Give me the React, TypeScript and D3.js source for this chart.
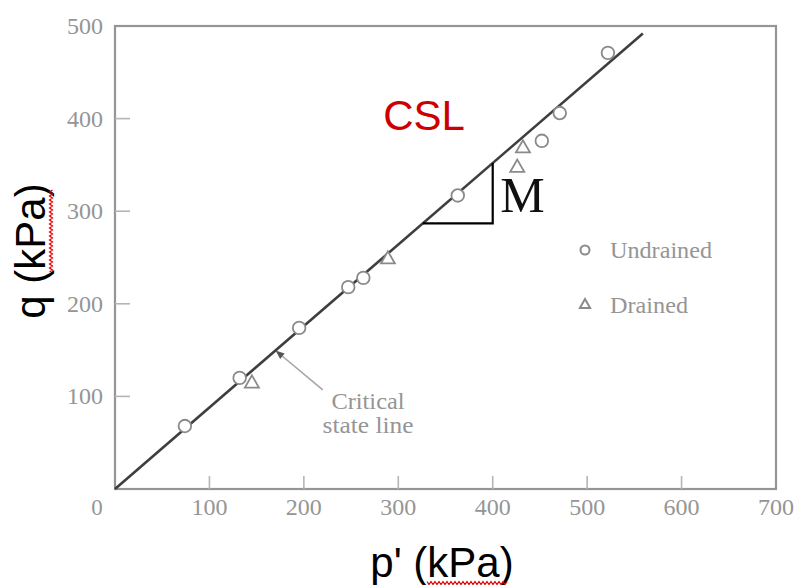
import React from "react";
import * as d3 from "d3";

// Undrained triaxial tests at critical state (p', q in kPa)
const undrainedP = [74, 132, 195, 247, 263, 363, 452, 471, 522];
const undrainedQ = [68, 120, 174, 218, 228, 317, 376, 406, 471];
// Drained triaxial tests at critical state
const drainedP = [145, 289, 432, 426];
const drainedQ = [115, 249, 369, 348];

const xTicks = [0, 100, 200, 300, 400, 500, 600, 700];
const yTicks = [100, 200, 300, 400, 500];

// Critical state line q = M p'
const M = 0.88;
const cslEndP = 559;

const W = 796;
const H = 585;

const serif = "'Liberation Serif', 'DejaVu Serif', serif";
const sans = "'Liberation Sans', Arial, sans-serif";
const axisGrey = "#959595";
const markGrey = "#8a8a8a";

function squiggle(x0: number, y0: number, len: number, vertical: boolean) {
  const pts: [number, number][] = [];
  const step = 2;
  for (let i = 0; i * step <= len; i++) {
    const off = i % 2 === 0 ? -1.5 : 1.5;
    pts.push(vertical ? [x0 + off, y0 - i * step] : [x0 + i * step, y0 + off]);
  }
  return d3.line()(pts) as string;
}

export default function App() {
  const x = d3.scaleLinear().domain([0, 700]).range([115, 776]);
  const y = d3.scaleLinear().domain([0, 500]).range([489, 26]);

  const cslPath = d3.line<number>()
    .x((p) => x(p))
    .y((p) => y(M * p))([0, cslEndP]) as string;

  const triPath = (s: number) => d3.symbol(d3.symbolTriangle, s)() as string;

  // slope triangle on the CSL
  const s0 = 326;
  const s1 = 400;
  const slopePath = d3.line()([
    [x(s0), y(M * s0)],
    [x(s1), y(M * s0)],
    [x(s1), y(M * s1)],
  ]) as string;

  // arrow for the "Critical state line" note
  const arrowFrom: [number, number] = [x(220), y(107)];
  const arrowTo: [number, number] = [x(170), y(M * 170)];
  const ang = Math.atan2(arrowTo[1] - arrowFrom[1], arrowTo[0] - arrowFrom[0]);
  const ah = 9;
  const aw = 3.5;
  const headBase: [number, number] = [arrowTo[0] - ah * Math.cos(ang), arrowTo[1] - ah * Math.sin(ang)];
  const head = d3.line()([
    arrowTo,
    [headBase[0] + aw * Math.sin(ang), headBase[1] - aw * Math.cos(ang)],
    [headBase[0] - aw * Math.sin(ang), headBase[1] + aw * Math.cos(ang)],
  ]) + "Z";

  const legendX = 585;
  const tickFont = 23;

  return (
    <svg
      width={W}
      height={H}
      viewBox={`0 0 ${W} ${H}`}
      style={{ position: "absolute", left: 0, top: 0, background: "#fff" }}
    >
      {/* frame */}
      <rect x={x(0)} y={y(500)} width={x(700) - x(0)} height={y(0) - y(500)}
        fill="none" stroke={axisGrey} strokeWidth={2.2} />

      {/* x ticks */}
      {xTicks.slice(1, -1).map((t) => (
        <line key={"xt" + t} x1={x(t)} x2={x(t)} y1={y(0)} y2={y(0) - 13}
          stroke="#b5b5b5" strokeWidth={1.6} />
      ))}
      {xTicks.map((t) => (
        <text key={"xl" + t} x={t === 0 ? x(t) - 18 : x(t)} y={y(0) + 26}
          textAnchor="middle" fontFamily={serif} fontSize={tickFont} fill={axisGrey}
          textLength={t === 0 ? undefined : 36} lengthAdjust="spacingAndGlyphs">
          {t}
        </text>
      ))}

      {/* y ticks */}
      {yTicks.slice(0, -1).map((t) => (
        <line key={"yt" + t} x1={x(0)} x2={x(0) + 15} y1={y(t)} y2={y(t)}
          stroke="#b5b5b5" strokeWidth={1.6} />
      ))}
      {yTicks.map((t) => (
        <text key={"yl" + t} x={67} y={y(t)} dy="0.35em"
          fontFamily={serif} fontSize={tickFont} fill={axisGrey}
          textLength={36} lengthAdjust="spacingAndGlyphs">
          {t}
        </text>
      ))}

      {/* critical state line */}
      <path d={cslPath} stroke="#3e3e3e" strokeWidth={2.6} fill="none" />

      {/* slope triangle */}
      <path d={slopePath} stroke="#000" strokeWidth={2.2} fill="none" />
      <text x={x(408)} y={y(299)} fontFamily={serif} fontSize={50} fill="#111">M</text>

      {/* CSL label */}
      <text x={x(284)} y={y(388)} fontFamily={sans} fontSize={42} fill="#cc0000">CSL</text>

      {/* undrained points */}
      {undrainedP.map((p, i) => (
        <circle key={"u" + i} cx={x(p)} cy={y(undrainedQ[i])} r={6.3}
          fill="#fff" stroke={markGrey} strokeWidth={1.8} />
      ))}
      {/* drained points */}
      {drainedP.map((p, i) => (
        <path key={"d" + i} d={triPath(85)}
          transform={`translate(${x(p)},${y(drainedQ[i]) + 1})`}
          fill="#fff" stroke={markGrey} strokeWidth={1.8} />
      ))}

      {/* annotation */}
      <line x1={arrowFrom[0]} y1={arrowFrom[1]} x2={headBase[0]} y2={headBase[1]}
        stroke="#a5a5a5" strokeWidth={1.6} />
      <path d={head} fill="#555" />
      <text x={368} y={409} textAnchor="middle" fontFamily={serif} fontSize={23} fill={axisGrey}
        textLength={73} lengthAdjust="spacingAndGlyphs">Critical</text>
      <text x={368} y={433} textAnchor="middle" fontFamily={serif} fontSize={23} fill={axisGrey}
        textLength={91} lengthAdjust="spacingAndGlyphs">state line</text>

      {/* legend */}
      <circle cx={legendX} cy={250} r={4.5} fill="#fff" stroke={markGrey} strokeWidth={2} />
      <text x={610} y={250} dy="0.35em" fontFamily={serif} fontSize={23} fill={axisGrey}
        textLength={102} lengthAdjust="spacingAndGlyphs">Undrained</text>
      <path d={triPath(45)} transform={`translate(${legendX},${305})`}
        fill="#fff" stroke={markGrey} strokeWidth={2} />
      <text x={610} y={305} dy="0.35em" fontFamily={serif} fontSize={23} fill={axisGrey}
        textLength={78} lengthAdjust="spacingAndGlyphs">Drained</text>

      {/* axis titles */}
      <text x={442} y={577} textAnchor="middle" fontFamily={sans} fontSize={42} fill="#000">p' (kPa)</text>
      <path d={squiggle(427, 583, 80, false)} stroke="#e00000" strokeWidth={1.2} fill="none" />
      <text transform={`translate(45,251) rotate(-90)`} textAnchor="middle"
        fontFamily={sans} fontSize={42} fill="#000">q (kPa)</text>
      <path d={squiggle(51, 272, 82, true)} stroke="#e00000" strokeWidth={1.2} fill="none" />
    </svg>
  );
}
